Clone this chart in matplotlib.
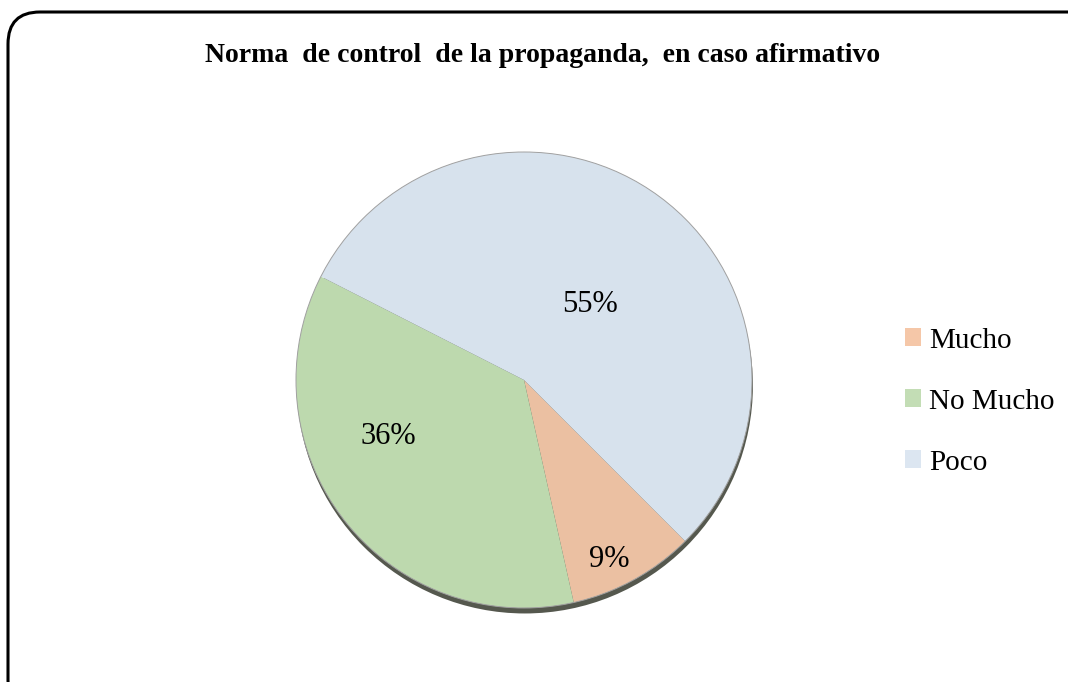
import numpy as np
import matplotlib
matplotlib.use("Agg")
import matplotlib.pyplot as plt
from matplotlib.patches import FancyBboxPatch, Circle, Patch

plt.rcParams["font.family"] = ["Liberation Serif", "DejaVu Serif"]

title = "Norma  de control  de la propaganda,  en caso afirmativo"
categories = ["Mucho", "No Mucho", "Poco"]
percentages = [9, 36, 55]

slice_colors = ["#EBC0A2", "#BDD9AE", "#D7E2ED"]
legend_colors = ["#F5C7A8", "#C3DDB5", "#DCE6F1"]

W, H = 1068, 682
fig = plt.figure(figsize=(W / 100, H / 100), dpi=100)
fig.patch.set_facecolor("white")

# rounded chart frame, runs off the right and bottom edges
frame = FancyBboxPatch((8 / W, -30 / H), 1100 / W, 700 / H,
                       boxstyle="round,pad=0,rounding_size=0.03",
                       transform=fig.transFigure, fc="none", ec="black",
                       lw=2.2, mutation_aspect=W / H, clip_on=False)
fig.patches.append(frame)

fig.text(543 / W, 1 - 55 / H, title, ha="center", va="center",
         fontsize=20, fontweight="bold")

# pie axes
cx, cy, R = 524, 380, 228
lim = 1.06
side = 2 * R * lim
ax = fig.add_axes([(cx - side / 2) / W, (H - cy - side / 2) / H, side / W, side / H])

# drop shadow under the pie
ax.add_patch(Circle((0.004, -0.024), 1.0, fc="#55584e", ec="none", zorder=0))

wedges, _ = ax.pie(percentages, colors=slice_colors, startangle=-45,
                   counterclock=False, radius=1.0,
                   wedgeprops=dict(linewidth=0, zorder=1))
ax.add_patch(Circle((0, 0), 1.0, fc="none", ec="#a0a0a0", lw=0.7, zorder=2))
ax.set_xlim(-lim, lim)
ax.set_ylim(-lim, lim)
ax.set_aspect("equal")
ax.axis("off")

# label placement (radius, angle shift) per slice
label_r = [0.86, 0.64, 0.45]
label_shift = [-3, -16, -4]
for w, p, r, s in zip(wedges, percentages, label_r, label_shift):
    mid = np.deg2rad((w.theta1 + w.theta2) / 2 + s)
    ax.text(r * np.cos(mid), r * np.sin(mid) - 0.012, f"{p}%", ha="center",
            va="center", fontsize=22, zorder=3)

handles = [Patch(fc=c, ec="none") for c in legend_colors]
fig.legend(handles, categories, loc="upper left",
           bbox_to_anchor=(890 / W, 1 - 313 / H), frameon=False,
           fontsize=21, handlelength=0.55, handleheight=0.55,
           handletextpad=0.3, labelspacing=1.2, borderpad=0)

fig.savefig("out.png", dpi=100)
